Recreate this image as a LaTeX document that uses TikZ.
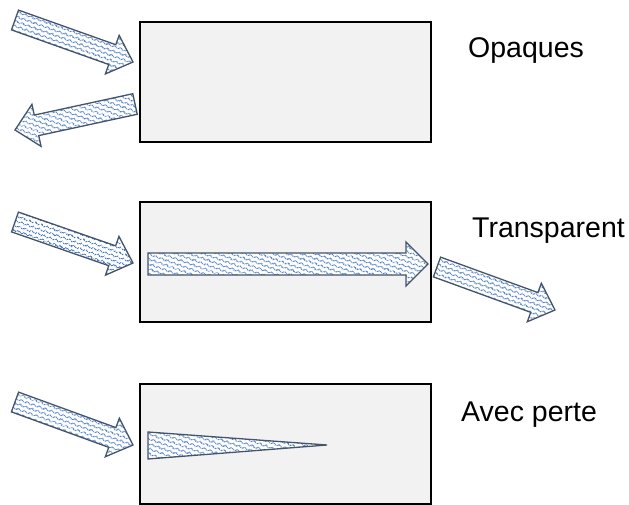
\documentclass[tikz,border=0pt]{standalone}
\usepackage{fontspec}
\setmainfont{Liberation Sans}
\usetikzlibrary{calc,patterns.meta}
\definecolor{wavecol}{HTML}{4475C2}
\definecolor{edgecol}{HTML}{44546A}
\definecolor{boxfill}{HTML}{F2F2F2}
\tikzdeclarepattern{
  name=wavy,
  type=uncolored,
  parameters={/pgf/pattern keys/angle},
  bounding box={(0pt,0pt) and (6pt,4pt)},
  tile size={(6pt,4pt)},
  tile transformation={rotate=\pgfkeysvalueof{/pgf/pattern keys/angle}},
  defaults={angle/.initial=0},
  code={\draw[line width=0.8pt] (-0.2pt,1pt) .. controls (1.5pt,1pt) and (1.5pt,3pt) .. (3pt,3pt) .. controls (4.5pt,3pt) and (4.5pt,1pt) .. (6.2pt,1pt);}
}
\tikzset{
  box/.style={draw=black,line width=2pt,fill=boxfill,minimum width=291pt,minimum height=120pt,inner sep=0pt},
  wavearrow/.style={draw=edgecol,line width=1.3pt,line join=miter,preaction={fill=white},pattern color=wavecol},
  label/.style={font=\fontsize{28.5}{31}\selectfont,anchor=base west,inner sep=0pt}
}
% name, tail, tip, half shaft, half head, head length, angle
\newcommand\wavyarrow[7]{%
  \coordinate (#1-a) at (#2);
  \coordinate (#1-b) at (#3);
  \coordinate (#1-n) at ($(#1-b)!#6!(#1-a)$);
  \path[wavearrow,pattern={wavy[angle=#7]}]
    ($(#1-a)!#4!90:(#1-b)$) -- ($(#1-n)!#4!-90:(#1-a)$) -- ($(#1-n)!#5!-90:(#1-a)$)
    -- (#1-b) -- ($(#1-n)!#5!90:(#1-a)$) -- ($(#1-n)!#4!90:(#1-a)$)
    -- ($(#1-a)!#4!-90:(#1-b)$) -- cycle;
}
\begin{document}
\begin{tikzpicture}[x=1pt,y=-1pt]
\useasboundingbox (0,0) rectangle (629,505);
\node[box] (box1) at (285.5,82) {};
\node[box] (box2) at (285.5,262) {};
\node[box] (box3) at (285.5,444) {};
\node[label] (t1) at (468,58) {Opaques};
\node[label] (t2) at (472,237) {Transparent};
\node[label] (t3) at (461,421) {Avec perte};
\wavyarrow{ar1}{15,20}{133,62}{10.5pt}{20.5pt}{22pt}{-19.6}
\wavyarrow{ar2}{135,104}{15,130}{10.5pt}{21.5pt}{22pt}{12.2}
\wavyarrow{ar3}{15,222}{133,263}{10.5pt}{20.5pt}{22pt}{-19.2}
\wavyarrow{ar4}{437,267}{555,310}{10.5pt}{20.5pt}{22pt}{-20}
\wavyarrow{ar5}{15,402}{133,445}{10.5pt}{20.5pt}{22pt}{-20}
\wavyarrow{ar6}{148,264}{428,264}{11pt}{22pt}{22pt}{0}
\path[wavearrow,pattern={wavy[angle=0]}] (148,432) -- (327,445) -- (148,459) -- cycle;
\end{tikzpicture}
\end{document}
